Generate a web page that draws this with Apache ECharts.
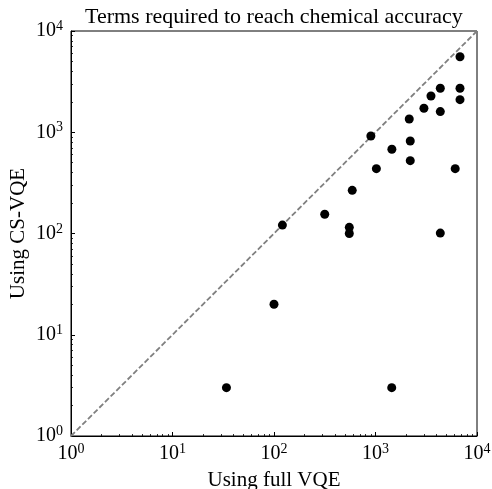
<!DOCTYPE html>
<html>
<head>
<meta charset="utf-8">
<script src="https://cdn.jsdelivr.net/npm/echarts@6/dist/echarts.min.js"></script>
<style>html,body{margin:0;padding:0;background:#fff}#c{width:492px;height:489px}</style>
</head>
<body>
<div id="c"></div>
<script>
const fullVQE = [6800, 4350, 6800, 3520, 6800, 3000, 4350, 2150, 900, 2200, 1450, 2200, 1020, 6100, 590, 316, 121, 552, 552, 4350, 100, 34, 1445];
const csVQE   = [5570, 2720, 2720, 2280, 2100, 1725, 1600, 1350, 918, 820, 680, 524, 437, 437, 267, 155, 121, 115, 100, 101, 20, 3, 3];
const majorTicks = [1, 10, 100, 1000, 10000];
const minorMultipliers = [2, 3, 4, 5, 6, 7, 8, 9];
const diagonal = [[1, 1], [10000, 10000]];
const titleText = 'Terms required to reach chemical accuracy';
const xName = 'Using full VQE';
const yName = 'Using CS-VQE';

const minorTicks = [];
majorTicks.slice(0, -1).forEach(d => minorMultipliers.forEach(m => minorTicks.push(d * m)));

const FONT = 'Liberation Serif';
const rich = {
  b: { fontSize: 20, fontFamily: FONT, color: '#000' },
  s: { fontSize: 14, fontFamily: FONT, color: '#000', verticalAlign: 'top', padding: [0, 0, 9, 0] }
};
const fmt = v => '{b|10}{s|' + Math.round(Math.log10(v)) + '}';

const mainAxis = (isX) => ({
  type: 'log', logBase: 10, min: 1, max: 10000,
  name: isX ? xName : yName,
  nameLocation: 'middle',
  nameMoveOverlap: false,
  nameGap: isX ? 34 : 42,
  nameTextStyle: { fontFamily: FONT, fontSize: 21, color: '#000' },
  axisLine: { show: true, lineStyle: { color: '#000', width: 1 } },
  axisTick: { show: true, inside: true, length: 4, customValues: majorTicks, lineStyle: { color: '#000', width: 1 } },
  axisLabel: { show: true, customValues: majorTicks, formatter: fmt, rich: rich, margin: isX ? 6 : 8 },
  splitLine: { show: false },
  minorTick: { show: false }
});
const minorAxis = (isX) => ({
  type: 'log', logBase: 10, min: 1, max: 10000,
  position: isX ? 'bottom' : 'left',
  axisLine: { show: false },
  axisTick: { show: true, inside: true, length: 2, customValues: minorTicks, lineStyle: { color: '#000', width: 0.8 } },
  axisLabel: { show: false },
  splitLine: { show: false }
});

const chart = echarts.init(document.getElementById('c'), null, { renderer: 'canvas' });
chart.setOption({
  animation: false,
  backgroundColor: '#fff',
  title: {
    text: titleText, left: 80, top: 1,
    textStyle: { fontFamily: FONT, fontSize: 22, fontWeight: 'normal', color: '#000' }
  },
  grid: { left: 71, right: 15, top: 31, bottom: 53, containLabel: false, outerBoundsMode: 'none', show: true, borderColor: '#000', borderWidth: 1, backgroundColor: 'transparent' },
  xAxis: [mainAxis(true), minorAxis(true)],
  yAxis: [mainAxis(false), minorAxis(false)],
  series: [
    {
      type: 'line', xAxisIndex: 0, yAxisIndex: 0, data: diagonal, symbol: 'none',
      lineStyle: { color: '#808080', width: 1.8, type: [5.5, 2.5] }, z: 1
    },
    {
      type: 'scatter', xAxisIndex: 0, yAxisIndex: 0,
      data: fullVQE.map((x, i) => [x, csVQE[i]]),
      symbol: 'circle', symbolSize: 9, itemStyle: { color: '#000', opacity: 1 }, z: 3
    }
  ]
});
</script>
</body>
</html>
